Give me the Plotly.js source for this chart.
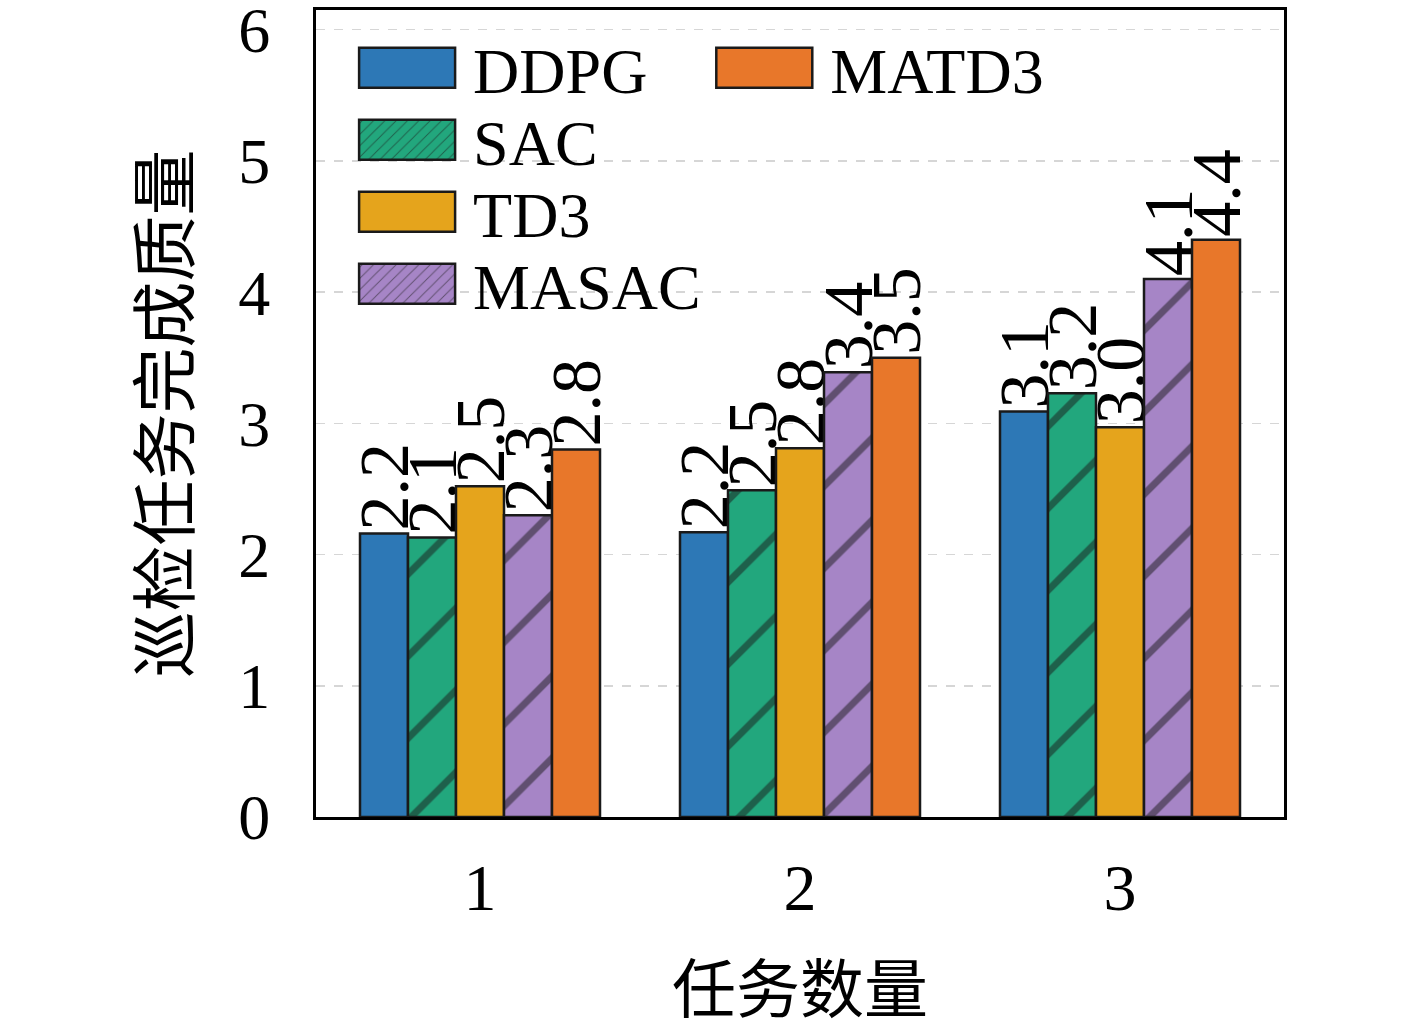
<!DOCTYPE html>
<html>
<head>
<meta charset="utf-8">
<script src="https://cdn.plot.ly/plotly-3.0.1.min.js"></script>
<style>
  html, body { margin: 0; padding: 0; background: #ffffff; }
  #chart { width: 1417px; height: 1030px; }
</style>
</head>
<body>
<div id="chart"></div>
<script>
// task counts on the x axis
var taskCounts = [1, 2, 3]

// completion quality per algorithm
var ddpg  = [2.16, 2.17, 3.09]
var sac   = [2.13, 2.49, 3.23]
var td3   = [2.52, 2.81, 2.97]
var masac = [2.30, 3.39, 4.10]
var matd3 = [2.80, 3.50, 4.40]

var seriesNames = ['DDPG', 'SAC', 'TD3', 'MASAC', 'MATD3']
var seriesValues = [ddpg, sac, td3, masac, matd3]
var seriesColours = ['#2d78b6', '#22a77d', '#e5a41c', '#a685c6', '#e8772a']
var seriesHatched = [false, true, false, true, false]

var serif = 'Liberation Serif, DejaVu Serif, serif'
var cjk = 'Noto Sans CJK SC, sans-serif'

function barTrace(i) {
  var trace = {
    x: taskCounts,
    y: seriesValues[i],
    name: seriesNames[i],
    type: 'bar',
    texttemplate: '%{y:.1f}',
    textposition: 'outside',
    textangle: -90,
    constraintext: 'none',
    cliponaxis: false,
    textfont: { family: serif, size: 70, color: '#000' },
    marker: {
      color: seriesColours[i],
      line: { color: '#1a1a1a', width: 2.5 }
    },
    legend: seriesNames[i] == 'MATD3' ? 'legend2' : 'legend'
  }
  if (seriesHatched[i]) {
    trace.marker.pattern = {
      shape: '/',
      bgcolor: seriesColours[i],
      fgcolor: '#1a1a1a',
      size: 58,
      solidity: 0.12,
      fillmode: 'overlay'
    }
  }
  return trace
}

var data = []
for (i = 0; i < seriesNames.length; i++) {
  data.push(barTrace(i))
}

var legendCommon = {
  orientation: 'v',
  bgcolor: 'rgba(0,0,0,0)',
  borderwidth: 0,
  font: { family: serif, size: 64, color: '#000' },
  itemwidth: 120,
  tracegroupgap: 0,
  xanchor: 'left',
  yanchor: 'top',
  traceorder: 'normal'
}

var layout = {
  width: 1417,
  height: 1030,
  paper_bgcolor: '#ffffff',
  plot_bgcolor: '#ffffff',
  margin: { l: 316, r: 133, t: 10, b: 213 },
  barmode: 'group',
  bargap: 0.25,
  bargroupgap: 0,
  showlegend: true,
  legend: Object.assign({}, legendCommon, { x: 0.028, y: 0.988 }),
  legend2: Object.assign({}, legendCommon, { x: 0.397, y: 0.988 }),
  xaxis: {
    range: [0.4875, 3.5125],
    tickvals: taskCounts,
    ticktext: taskCounts.map(String),
    showgrid: false,
    zeroline: false,
    showline: true,
    mirror: true,
    linecolor: '#000',
    linewidth: 3,
    ticks: '',
    ticklabelstandoff: 11,
    tickfont: { family: serif, size: 66, color: '#000' },
    title: {
      text: '任务数量',
      standoff: 52,
      font: { family: cjk, size: 64, color: '#000' }
    }
  },
  yaxis: {
    range: [0, 6.15],
    tickvals: [0, 1, 2, 3, 4, 5, 6],
    ticklabeloverflow: 'allow',
    showgrid: true,
    gridcolor: '#d6d6d6',
    griddash: 'dash',
    gridwidth: 1.5,
    zeroline: false,
    showline: true,
    mirror: true,
    linecolor: '#000',
    linewidth: 3,
    ticks: '',
    ticklabelstandoff: 30,
    tickfont: { family: serif, size: 64, color: '#000' },
    title: {
      text: '巡检任务完成质量',
      standoff: 28,
      font: { family: cjk, size: 66, color: '#000' }
    }
  }
}

// matplotlib-like legend: wide patches and tighter rows
// legend text starts 130px in (itemGap*2 + itemwidth)
function restyleLegend() {
  var rowStep = 72
  var items = document.querySelectorAll('g.traces')
  var firstY = new Map()
  var counts = new Map()
  items.forEach(function (item) {
    try {
      var box = item.parentNode
      var tr = item.getAttribute('transform') || ''
      var m = tr.match(/translate\(\s*([-\d.]+)[ ,]+([-\d.]+)\s*\)/)
      if (m) {
        if (!firstY.has(box)) { firstY.set(box, parseFloat(m[2])); counts.set(box, 0) }
        var k = counts.get(box)
        item.setAttribute('transform', 'translate(' + m[1] + ',' + (firstY.get(box) + k * rowStep) + ')')
        counts.set(box, k + 1)
      }
    } catch (e) {}
  })
  document.querySelectorAll('.legendpoints path').forEach(function (path) {
    path.removeAttribute('transform')
    path.setAttribute('d', 'M16,-20H112V20H16Z')
    path.style.strokeWidth = '2.5px'
    path.style.stroke = '#1a1a1a'
  })
}

var gd = document.getElementById('chart')
Plotly.newPlot(gd, data, layout, { displayModeBar: false, staticPlot: true }).then(function () {
  restyleLegend()
  setTimeout(restyleLegend, 50)
})
</script>
</body>
</html>
